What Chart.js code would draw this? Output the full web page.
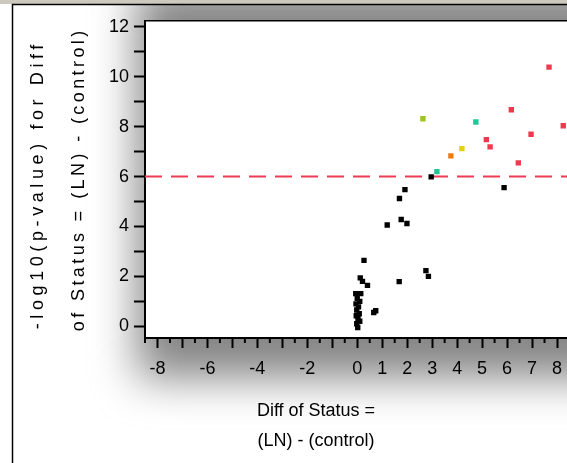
<!DOCTYPE html>
<html>
<head>
<meta charset="utf-8">
<script src="https://cdn.jsdelivr.net/npm/chart.js@4/dist/chart.umd.min.js"></script>
<style>
  html, body { margin: 0; padding: 0; background: #fff; overflow: hidden; }
  #wrap { width: 567px; height: 463px; overflow: hidden; }
  #chart { display: block; }
</style>
</head>
<body>
<div id="wrap"><canvas id="chart" width="580" height="463"></canvas></div>
<script>
// values: Diff of Status vs -log10(p)
const blackDiff = [2.96, 5.88, 1.91, 1.69, 1.76, 1.99, 1.20, 0.27, 0.12, 0.21, 0.41, 1.68, 2.75, 2.85,
                   -0.06, 0.14, 0.00, 0.10, -0.05, 0.05, -0.02, 0.08, -0.04, 0.03, 0.10, -0.02, 0.02, 0.66, 0.74];
const blackLogP = [5.99, 5.56, 5.48, 5.12, 4.28, 4.12, 4.06, 2.64, 1.94, 1.80, 1.64, 1.79, 2.23, 2.00,
                   1.31, 1.31, 1.12, 1.00, 0.90, 0.78, 0.65, 0.50, 0.42, 0.30, 0.20, 0.10, -0.05, 0.55, 0.62];
const redDiff = [7.68, 6.17, 8.25, 6.96, 5.17, 5.32, 6.45];
const redLogP = [10.39, 8.68, 8.04, 7.70, 7.48, 7.19, 6.55];
const limeDiff = [2.63];
const limeLogP = [8.32];
const tealDiff = [4.75, 3.19];
const tealLogP = [8.19, 6.20];
const yellowDiff = [4.19];
const yellowLogP = [7.12];
const orangeDiff = [3.75];
const orangeLogP = [6.83];
const threshold = 6;

const xMin = -8.5, xMax = 8.5;
const yMin = -0.47, yMax = 12.25;
const xTickLabels = [-8, -6, -4, -2, 0, 1, 2, 3, 4, 5, 6, 7, 8];
const yTickLabels = [0, 2, 4, 6, 8, 10, 12];
const xTitle = ['Diff of Status =', '(LN) - (control)'];
const yTitle = ['-log10(p-value) for Diff', 'of Status = (LN) - (control)'];

const FONT = '"Liberation Sans", Arial, sans-serif';
const pts = (xs, ys) => xs.map((x, i) => ({ x, y: ys[i] }));
const dotSet = (data, color) => ({
    data, backgroundColor: color, borderWidth: 0,
    pointStyle: 'rect', pointRadius: 3.8, order: 0
});
// tick positions: every half unit on x, every unit on y
const steps = (from, to, step) => {
    const out = [];
    for (let v = from; v <= to + 1e-9; v += step) out.push(Math.round(v * 10) / 10);
    return out;
};

// grey frame + blurred halo behind the plot
const backdrop = {
    id: 'backdrop',
    beforeDraw(chart) {
        const { ctx, chartArea: a, width, height } = chart;
        ctx.save();
        ctx.fillStyle = '#fff';
        ctx.fillRect(0, 0, width, height);
        ctx.filter = 'blur(22px)';
        ctx.fillStyle = '#858585';
        ctx.fillRect(a.left - 8, a.top - 34, a.right - a.left + 60, a.bottom - a.top + 74);
        ctx.filter = 'none';
        ctx.fillStyle = '#cdc9be';
        ctx.fillRect(0, 0, width, 4);
        ctx.strokeStyle = '#000';
        ctx.lineWidth = 1.5;
        ctx.beginPath();
        ctx.moveTo(12.5, height); ctx.lineTo(12.5, 4.5); ctx.lineTo(width, 4.5);
        ctx.stroke();
        ctx.fillStyle = '#fff';
        ctx.fillRect(a.left, a.top, a.right - a.left, a.bottom - a.top);
        ctx.restore();
    }
};

// half-unit minor ticks, top frame line and the two axis titles
const decorations = {
    id: 'decorations',
    afterDraw(chart) {
        const { ctx, chartArea: a, scales } = chart;
        ctx.save();
        ctx.strokeStyle = '#000';
        ctx.lineWidth = 2;
        scales.x.ticks.filter(t => !Number.isInteger(t.value)).forEach(t => {
            const px = scales.x.getPixelForValue(t.value);
            ctx.beginPath(); ctx.moveTo(px, a.bottom); ctx.lineTo(px, a.bottom + 5); ctx.stroke();
        });
        ctx.lineWidth = 1.5;
        ctx.beginPath(); ctx.moveTo(a.left, a.top); ctx.lineTo(a.right, a.top); ctx.stroke();

        ctx.fillStyle = '#000';
        ctx.font = '18px ' + FONT;
        ctx.textAlign = 'center';
        ctx.textBaseline = 'middle';
        xTitle.forEach((t, i) => ctx.fillText(t, 316, 411 + i * 30));

        // rotated y title, the original spreads its letters out
        const spacing = [4.6, 3.4];
        const centerY = [187, 181];
        yTitle.forEach((t, i) => {
            ctx.save();
            ctx.translate(38 + i * 41, centerY[i]);
            ctx.rotate(-Math.PI / 2);
            ctx.letterSpacing = spacing[i] + 'px';
            ctx.fillText(t, spacing[i] / 2, 0);
            ctx.restore();
        });
        ctx.restore();
    }
};

const tickColor = c => Number.isInteger(c.tick.value) ? '#000' : 'rgba(0,0,0,0)';

new Chart(document.getElementById('chart'), {
    type: 'scatter',
    data: {
        datasets: [
            {
                data: [{ x: xMin, y: threshold }, { x: xMax, y: threshold }],
                showLine: true, borderColor: '#ee3a52', borderWidth: 2,
                borderDash: [17, 9], pointRadius: 0, order: 10
            },
            dotSet(pts(blackDiff, blackLogP), '#000000'),
            dotSet(pts(redDiff, redLogP), '#f0384e'),
            dotSet(pts(limeDiff, limeLogP), '#9cc41a'),
            dotSet(pts(tealDiff, tealLogP), '#1fc796'),
            dotSet(pts(yellowDiff, yellowLogP), '#e2d20e'),
            dotSet(pts(orangeDiff, orangeLogP), '#ef7c12')
        ]
    },
    options: {
        responsive: false,
        animation: false,
        layout: { padding: { top: 20.7, right: 10.5, left: 0, bottom: 0 } },
        plugins: { legend: { display: false }, tooltip: { enabled: false } },
        scales: {
            x: {
                type: 'linear', min: xMin, max: xMax,
                afterFit: s => { s.height = 125; },
                afterBuildTicks: s => { s.ticks = steps(xMin, xMax, 0.5).map(value => ({ value })); },
                border: { color: '#000', width: 2 },
                grid: { drawOnChartArea: false, tickLength: 10, tickWidth: 2, tickColor },
                ticks: {
                    autoSkip: false, maxRotation: 0, padding: 10,
                    color: '#000', font: { family: FONT, size: 18 },
                    callback: v => xTickLabels.includes(v) ? String(v) : ''
                }
            },
            y: {
                type: 'linear', min: yMin, max: yMax,
                afterFit: s => { s.width = 145; },
                afterBuildTicks: s => { s.ticks = steps(0, 12, 1).map(value => ({ value })); },
                border: { color: '#000', width: 2 },
                grid: { drawOnChartArea: false, tickLength: 11, tickWidth: 2, tickColor },
                ticks: {
                    autoSkip: false, padding: 5,
                    color: '#000', font: { family: FONT, size: 18 },
                    callback: v => yTickLabels.includes(v) ? String(v) : ''
                }
            }
        }
    },
    plugins: [backdrop, decorations]
});
</script>
</body>
</html>
